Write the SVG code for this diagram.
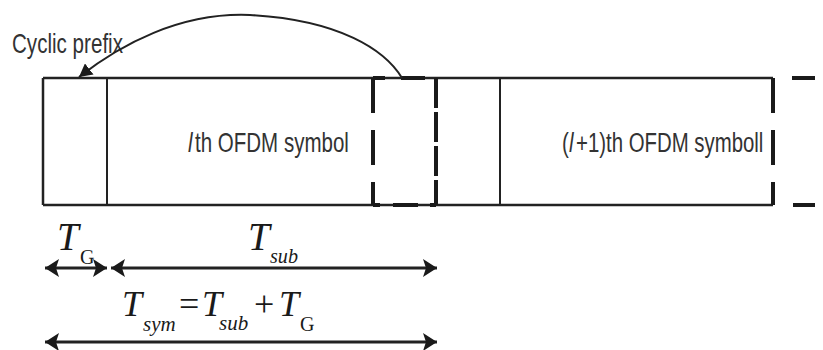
<svg xmlns="http://www.w3.org/2000/svg" width="823" height="350" viewBox="0 0 823 350">
<style>
.ln{stroke:#222;fill:none;stroke-width:2.5}
.thin{stroke:#222;fill:none;stroke-width:2}
.dash{stroke:#1a1a1a;fill:none;stroke-width:4}
.arr{stroke:#222;fill:none;stroke-width:3}
.sans{font-family:"Liberation Sans",Arial,sans-serif;fill:#333;font-size:27px}
.it{font-style:italic}
.math{font-family:"Liberation Serif","Times New Roman",serif;fill:#1a1a1a;font-style:italic}
.up{font-style:normal}
</style>
<defs>
<marker id="ah" markerUnits="userSpaceOnUse" markerWidth="16" markerHeight="20" refX="14" refY="10" orient="auto-start-reverse">
<path d="M0,1 L14,10 L0,19 L3,10 z" fill="#1a1a1a"/>
</marker>
<marker id="ahc" markerUnits="userSpaceOnUse" markerWidth="14" markerHeight="14" refX="13" refY="7" orient="auto">
<path d="M0,0 L13,7 L0,14 z" fill="#1a1a1a"/>
</marker>
</defs>
<rect width="823" height="350" fill="#fff"/>
<g id="symbol-l">
<path class="ln" d="M43,78 H773 M43,205 H773 M43,78 V205"/>
<line class="thin" x1="107" y1="78" x2="107" y2="205"/>
<text class="sans it" transform="translate(188,152) scale(0.76,1)">l</text>
<text class="sans" transform="translate(195,152) scale(0.76,1)">th OFDM symbol</text>
</g>
<g id="copied-part-l">
<line class="dash" x1="373" y1="78" x2="373" y2="205" stroke-dasharray="35 17"/>
<line class="dash" x1="436" y1="78" x2="436" y2="205" stroke-dasharray="30 4"/>
<path class="dash" d="M373,78 H385 M401,78 H425 M373,205 H380 M393,205 H418 M430,205 H436"/>
</g>
<g id="symbol-l1">
<line class="thin" x1="500" y1="78" x2="500" y2="205" stroke-width="1.6"/>
<text class="sans" transform="translate(562,152) scale(0.76,1)">(</text>
<text class="sans it" transform="translate(569,152) scale(0.76,1)">l</text>
<text class="sans" transform="translate(576,152) scale(0.755,1)">+1)th OFDM symboll</text>
<line class="dash" x1="773" y1="78" x2="773" y2="205" stroke-dasharray="35 17"/>
<path class="dash" d="M792,78 H815 M793,205 H815"/>
</g>
<g id="cyclic-prefix-label">
<text class="sans" transform="translate(12,53) scale(0.763,1)">Cyclic prefix</text>
</g>
<g id="connectors">
<path class="thin" d="M402,78 C385,50 340,20 250,15 C180,12 120,45 79,77" marker-end="url(#ahc)"/>
<line class="arr" x1="45" y1="268" x2="107" y2="268" marker-start="url(#ah)" marker-end="url(#ah)"/>
<line class="arr" x1="111" y1="268" x2="437" y2="268" marker-start="url(#ah)" marker-end="url(#ah)"/>
<line class="arr" x1="45" y1="342" x2="437" y2="342" marker-start="url(#ah)" marker-end="url(#ah)"/>
</g>
<g id="label-TG">
<text class="math" x="57" y="250" font-size="39">T<tspan class="up" x="80" y="264" font-size="20">G</tspan></text>
</g>
<g id="label-Tsub">
<text class="math" x="248" y="250" font-size="39">T<tspan x="270" y="263" font-size="21" textLength="28" lengthAdjust="spacingAndGlyphs">sub</tspan></text>
</g>
<g id="label-Tsym">
<text class="math" x="122" y="316" font-size="36">T<tspan x="143" y="331" font-size="21">sym</tspan><tspan class="up" x="179" y="316" font-size="36">=</tspan><tspan x="202" y="316">T</tspan><tspan x="219" y="330" font-size="21">sub</tspan><tspan class="up" x="254" y="316" font-size="36">+</tspan><tspan x="279" y="316">T</tspan><tspan class="up" x="300" y="331" font-size="20">G</tspan></text>
</g>
</svg>
